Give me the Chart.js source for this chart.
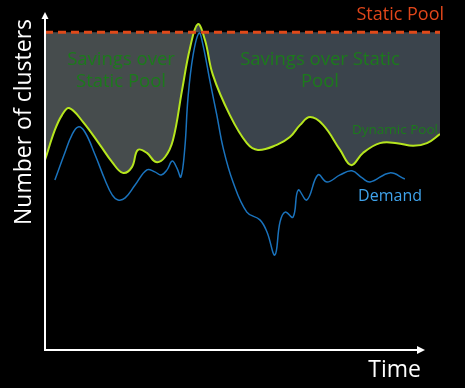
<!DOCTYPE html>
<html>
<head>
<meta charset="utf-8">
<script src="https://cdn.jsdelivr.net/npm/chart.js@4.4.1/dist/chart.umd.min.js"></script>
<style>
  body { margin: 0; background: #000; }
  #wrap { width: 465px; height: 388px; position: relative; }
</style>
</head>
<body>
<div id="wrap"><canvas id="myChart"></canvas></div>
<script>
// static pool level and time range
var staticLevel = 94;
var timeRange = [0, 100];

// dynamic pool (time, clusters)
var dynamicTime = [0, 2.5, 4.3, 6.1, 9.6, 13.9, 17.0, 19.7, 22.0, 23.5, 25.8, 28.1, 30.4, 32.4, 34.7, 36.7, 38.7, 40.5, 42.5, 46.8, 51.1, 53.9, 58.7, 62.0, 64.6, 67.1, 70.4, 74.7, 77.5, 80.5, 84.8, 89.1, 93.2, 96.7, 100];
var dynamicValues = [56.2, 65.1, 69.5, 71.6, 67.5, 60.7, 55.6, 52.4, 54.1, 59.2, 58.3, 55.6, 57.1, 62.1, 76.9, 89.3, 96.4, 91.7, 81.4, 69.5, 61.2, 59.2, 60.7, 63.0, 66.6, 68.9, 66.6, 59.2, 54.7, 58.3, 61.2, 61.2, 60.4, 61.2, 63.9];

// demand (time, clusters)
var demandTime = [2.5, 5.1, 6.8, 8.4, 10.1, 12.7, 15.2, 17.0, 18.5, 20.3, 22.8, 25.8, 27.8, 29.4, 30.9, 32.2, 33.4, 34.4, 35.4, 36.2, 37.5, 39.0, 40.0, 41.8, 43.5, 45.1, 47.6, 51.1, 54.4, 56.2, 58.2, 59.5, 60.8, 62.8, 64.1, 66.3, 69.1, 71.4, 74.7, 77.7, 80.3, 82.3, 87.3, 91.1];
var demandValues = [50.3, 58.6, 63.6, 66.0, 64.5, 57.7, 50.3, 45.9, 44.4, 45.0, 48.8, 53.3, 52.7, 51.8, 53.3, 55.9, 53.8, 51.2, 59.8, 74.6, 87.3, 93.8, 90.2, 79.3, 69.5, 59.8, 49.7, 40.8, 38.5, 34.9, 28.1, 37.9, 40.8, 39.3, 47.3, 44.4, 51.8, 49.7, 51.8, 53.0, 50.9, 49.7, 52.4, 50.6];

function toPoints(xs, ys) {
  var pts = [];
  for (var i = 0; i < xs.length; i++) pts.push({x: xs[i], y: ys[i]});
  return pts;
}

// fill is greyer left of the peak, bluer right of it
function savingsFill(context) {
  var chart = context.chart;
  var area = chart.chartArea;
  if (!area) return '#404849';
  var peak = chart.scales.x.getPixelForValue(38.7);
  var stop = (peak - area.left) / (area.right - area.left);
  var g = chart.ctx.createLinearGradient(area.left, 0, area.right, 0);
  g.addColorStop(0, '#464c4d');
  g.addColorStop(stop, '#464c4d');
  g.addColorStop(stop, '#3b444c');
  g.addColorStop(1, '#3b444c');
  return g;
}

var overlay = {
  id: 'overlay',
  afterDatasetsDraw: function(chart) {
    var ctx = chart.ctx;
    var a = chart.chartArea;
    var left = a.left, bottom = a.bottom;
    var xEnd = a.right - 15;
    var yTop = a.top;
    ctx.save();
    ctx.strokeStyle = '#fff';
    ctx.fillStyle = '#fff';
    ctx.lineWidth = 2;
    ctx.beginPath();
    ctx.moveTo(left, yTop + 6);
    ctx.lineTo(left, bottom);
    ctx.lineTo(xEnd - 6, bottom);
    ctx.stroke();
    // arrow heads
    ctx.beginPath();
    ctx.moveTo(left, yTop);
    ctx.lineTo(left - 3.5, yTop + 7);
    ctx.lineTo(left + 3.5, yTop + 7);
    ctx.closePath();
    ctx.fill();
    ctx.beginPath();
    ctx.moveTo(xEnd, bottom);
    ctx.lineTo(xEnd - 8, bottom - 4);
    ctx.lineTo(xEnd - 8, bottom + 4);
    ctx.closePath();
    ctx.fill();

    ctx.textBaseline = 'alphabetic';
    // axis titles
    ctx.font = '23px "Open Sans"';
    ctx.textAlign = 'right';
    ctx.fillText('Time', 421, 377);
    ctx.save();
    ctx.translate(31, 122);
    ctx.rotate(-Math.PI / 2);
    ctx.textAlign = 'center';
    ctx.font = '23px "Open Sans"';
    ctx.fillText('Number of clusters', 0, 0);
    ctx.restore();

    // series labels
    ctx.textAlign = 'right';
    ctx.fillStyle = '#e0461a';
    ctx.font = '18px "Open Sans"';
    ctx.fillText('Static Pool', 444, 20);

    ctx.fillStyle = '#3fa2ea';
    ctx.font = '16px "Open Sans"';
    ctx.fillText('Demand', 422, 201);

    ctx.fillStyle = '#1c7a1c';
    ctx.font = '13.5px "Open Sans"';
    ctx.fillText('Dynamic Pool', 438, 134);

    ctx.textAlign = 'center';
    ctx.font = '18.5px "Open Sans"';
    ctx.fillText('Savings over', 121, 65);
    ctx.fillText('Static Pool', 121, 87);
    ctx.fillText('Savings over Static', 320, 65);
    ctx.fillText('Pool', 320, 87);
    ctx.restore();
  }
};

var ctx = document.getElementById('myChart').getContext('2d');
var chart = new Chart(ctx, {
  type: 'line',
  data: {
    datasets: [
      {
        label: 'Static Pool',
        data: toPoints(timeRange, [staticLevel, staticLevel]),
        borderColor: '#e04a1a',
        borderWidth: 3,
        borderDash: [8, 5],
        pointRadius: 0,
        fill: false,
        order: 1
      },
      {
        label: 'Dynamic Pool',
        data: toPoints(dynamicTime, dynamicValues),
        borderColor: '#b6e61e',
        borderWidth: 2,
        backgroundColor: savingsFill,
        tension: 0.4,
        pointRadius: 0,
        fill: 0,
        order: 2
      },
      {
        label: 'Demand',
        data: toPoints(demandTime, demandValues),
        borderColor: '#1a73bd',
        borderWidth: 1.5,
        tension: 0.4,
        pointRadius: 0,
        fill: false,
        order: 3
      }
    ]
  },
  options: {
    responsive: true,
    maintainAspectRatio: false,
    animation: false,
    layout: { padding: { left: 45, right: 25, top: 12, bottom: 38 } },
    plugins: { legend: { display: false }, tooltip: { enabled: false } },
    scales: {
      x: { type: 'linear', min: 0, max: 100, display: false },
      y: { min: 0, max: 100, display: false }
    }
  },
  plugins: [overlay]
});
</script>
</body>
</html>
